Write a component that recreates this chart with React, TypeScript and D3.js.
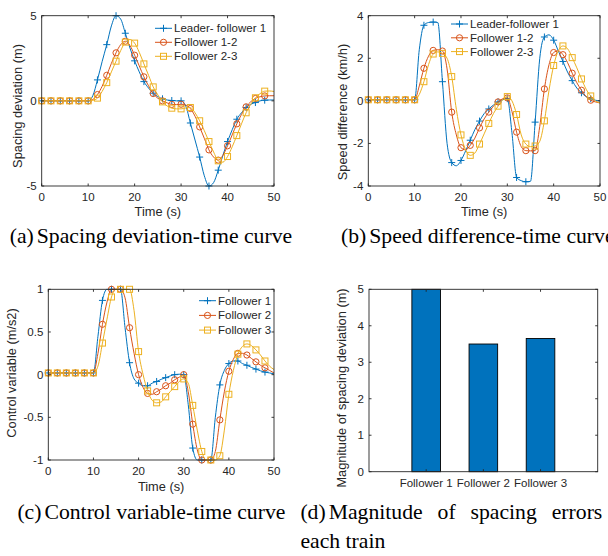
import React from 'react';
import * as d3 from 'd3';

// time grid (s)
const timeSec = [0,1,2,3,4,5,6,7,8,9,10,11,12,13,14,15,16,17,18,19,20,21,22,23,24,25,26,27,28,29,30,31,32,33,34,35,36,37,38,39,40,41,42,43,44,45,46,47,48,49,50];
const markerTimes = [0,2,4,6,8,10,12,14,16,18,20,22,24,26,28,30,32,34,36,38,40,42,44,46,48];

// (a) spacing deviation (m)
const gapLeader = [0,0,0,0,0,0,0,0,0,0,0, 0.3,1.23,2.3,3.3,4.4,5.0,4.8,3.97,3.1,2.35,1.7,1.13,0.75,0.45,0.25,0.12,0.05,0.02,0,0, -0.3,-1.3,-2.3,-3.3,-4.4,-5.0,-4.8,-4.07,-3.2,-2.39,-1.7,-1.08,-0.7,-0.39,-0.2,-0.1,0,0.04,0.05,0.05];
const gap12 = [0,0,0,0,0,0,0,0,0,0,0, 0.08,0.37,0.85,1.5,2.2,2.82,3.3,3.5,3.25,2.68,2.05,1.41,0.88,0.43,0.15,0.0,-0.12,-0.21,-0.22,-0.2, -0.25,-0.45,-0.9,-1.53,-2.2,-2.88,-3.3,-3.48,-3.2,-2.64,-2.0,-1.35,-0.8,-0.35,-0.05,0.14,0.24,0.29,0.3,0.3];
const gap23 = [0,0,0,0,0,0,0,0,0,0,0, 0.03,0.16,0.55,1.07,1.7,2.33,2.95,3.45,3.6,3.39,2.85,2.17,1.5,0.82,0.35,-0.06,-0.3,-0.43,-0.47,-0.47, -0.42,-0.39,-0.7,-1.17,-1.75,-2.39,-3.0,-3.52,-3.6,-3.27,-2.7,-2.04,-1.35,-0.7,-0.2,0.18,0.42,0.57,0.58,0.55];

// (b) speed difference (km/h)
const speedLeader = [0.05,0.05,0.05,0.05,0.05,0.05,0.05,0.05,0.05,0.05,0.05, 2.4,3.55,3.68,3.7,3.68,0.9,-2.0,-2.9,-3.05,-2.8,-2.35,-1.85,-1.35,-0.95,-0.6,-0.38,-0.2,-0.05,0.05,0.1, -1.5,-3.6,-3.75,-3.8,-3.78,-1.0,2.0,3.0,3.1,2.85,2.35,1.85,1.35,0.95,0.6,0.38,0.2,0.1,0.03,0.0];
const speed12 = [0.05,0.05,0.05,0.05,0.05,0.05,0.05,0.05,0.05,0.05,0.05, 0.7,1.53,2.1,2.37,2.4,2.34,1.5,-0.53,-1.6,-2.2,-2.3,-2.09,-1.75,-1.27,-0.85,-0.53,-0.25,-0.05,0.1,0.14, -0.5,-1.47,-2.15,-2.34,-2.35,-2.34,-1.2,0.56,1.7,2.27,2.35,2.17,1.8,1.3,0.85,0.5,0.2,0.03,-0.05,-0.1];
const speed23 = [0.05,0.05,0.05,0.05,0.05,0.05,0.05,0.05,0.05,0.05,0.05, 0.3,0.9,1.7,2.2,2.3,2.23,2.0,1.14,-0.4,-1.6,-2.3,-2.56,-2.45,-2.03,-1.55,-1.06,-0.6,-0.25,0.05,0.2, 0.0,-0.64,-1.6,-2.03,-2.15,-2.12,-1.9,-0.94,0.5,1.66,2.35,2.58,2.45,2.03,1.55,1.03,0.55,0.23,0.0,-0.1];

// (c) control variable (m/s2)
const ctrl1 = [0.02,0.02,0.02,0.02,0.02,0.02,0.02,0.02,0.02,0.02,0.02, 0.45,0.87,1.0,1.0,1.0,1.0,0.55,0.14,-0.05,-0.1,-0.13,-0.13,-0.1,-0.08,-0.055,-0.035,-0.015,0.0,0.005,0.0, -0.35,-0.86,-1.0,-1.0,-1.0,-1.0,-0.5,-0.12,0.05,0.13,0.16,0.16,0.13,0.11,0.085,0.065,0.045,0.03,0.02,0.01];
const ctrl2 = [0.02,0.02,0.02,0.02,0.02,0.02,0.02,0.02,0.02,0.02,0.02, 0.25,0.59,0.85,1.0,1.0,1.0,0.9,0.55,0.25,0.0,-0.15,-0.22,-0.23,-0.2,-0.17,-0.13,-0.1,-0.06,-0.03,0.0, -0.2,-0.58,-0.88,-1.0,-1.0,-1.0,-0.9,-0.53,-0.2,0.04,0.18,0.25,0.25,0.23,0.19,0.15,0.11,0.08,0.05,0.02];
const ctrl3 = [0.02,0.02,0.02,0.02,0.02,0.02,0.02,0.02,0.02,0.02,0.02, 0.1,0.37,0.65,0.91,1.0,1.0,1.0,1.0,0.75,0.27,0.0,-0.19,-0.3,-0.33,-0.32,-0.26,-0.2,-0.14,-0.08,-0.05, -0.1,-0.36,-0.65,-0.9,-1.0,-1.0,-1.0,-0.95,-0.65,-0.23,0.05,0.24,0.33,0.36,0.34,0.29,0.23,0.16,0.1,0.06];

// (d) max spacing error per train (m)
const trains = ['Follower 1', 'Follower 2', 'Follower 3'];
const maxGap = [5.0, 3.5, 3.65];

const timeTicks = [0, 10, 20, 30, 40, 50];
const gapTicks = [-5, 0, 5];
const speedTicks = [-4, -2, 0, 2, 4];
const ctrlTicks = [-1, -0.5, 0, 0.5, 1];
const barTicks = [0, 1, 2, 3, 4, 5];

const BLUE = '#0072BD';
const RED = '#D95319';
const YELLOW = '#EDB120';
const AXIS = '#262626';
const SANS = '"Liberation Sans", Arial, Helvetica, sans-serif';
const SERIF = '"Liberation Serif", "Times New Roman", serif';
const TICK_FS = 11.5;
const LABEL_FS = 12.8;
const TL = 2.5; // tick length

type Mk = 'plus' | 'circle' | 'square';
type Series = { name: string; values: number[]; color: string; marker: Mk };

const Marker = ({ x, y, kind, color }: { x: number; y: number; kind: Mk; color: string }) => {
  if (kind === 'plus')
    return <path d={`M${x - 3.5},${y}H${x + 3.5}M${x},${y - 3.5}V${y + 3.5}`} stroke={color} strokeWidth={1} fill="none" />;
  if (kind === 'circle') return <circle cx={x} cy={y} r={3.1} stroke={color} strokeWidth={1} fill="none" />;
  return <rect x={x - 3} y={y - 3} width={6} height={6} stroke={color} strokeWidth={1} fill="none" />;
};

type PanelProps = {
  x0: number; x1: number; y0: number; y1: number;
  yDomain: [number, number]; yTicks: number[];
  ylabel: string; ylabelX: number; ylabelY: number;
  xlabelY: number;
  series: Series[];
  legendX: number; legendY: number; legendStep: number;
};

const LinePanel = (p: PanelProps) => {
  const x = d3.scaleLinear().domain([0, 50]).range([p.x0, p.x1]);
  const y = d3.scaleLinear().domain(p.yDomain).range([p.y1, p.y0]);
  const line = d3.line<number>()
    .x((_, i) => x(timeSec[i]))
    .y(d => y(d))
    .curve(d3.curveMonotoneX);

  return (
    <g>
      {p.series.map(s => (
        <g key={s.name}>
          <path d={line(s.values) || ''} fill="none" stroke={s.color} strokeWidth={1} />
          {markerTimes.map(t => (
            <Marker key={t} x={x(t)} y={y(s.values[timeSec.indexOf(t)])} kind={s.marker} color={s.color} />
          ))}
        </g>
      ))}
      {/* box + ticks */}
      <rect x={p.x0} y={p.y0} width={p.x1 - p.x0} height={p.y1 - p.y0} fill="none" stroke={AXIS} strokeWidth={0.9} />
      {timeTicks.map(t => (
        <g key={'xt' + t}>
          <line x1={x(t)} x2={x(t)} y1={p.y1} y2={p.y1 - TL} stroke={AXIS} strokeWidth={0.9} />
          <line x1={x(t)} x2={x(t)} y1={p.y0} y2={p.y0 + TL} stroke={AXIS} strokeWidth={0.9} />
          <text x={x(t)} y={p.y1 + 15} textAnchor="middle" fontSize={TICK_FS} fill={AXIS} fontFamily={SANS}>{t}</text>
        </g>
      ))}
      {p.yTicks.map(v => (
        <g key={'yt' + v}>
          <line x1={p.x0} x2={p.x0 + TL} y1={y(v)} y2={y(v)} stroke={AXIS} strokeWidth={0.9} />
          <line x1={p.x1} x2={p.x1 - TL} y1={y(v)} y2={y(v)} stroke={AXIS} strokeWidth={0.9} />
          <text x={p.x0 - 5} y={y(v) + 4} textAnchor="end" fontSize={TICK_FS} fill={AXIS} fontFamily={SANS}>{String(v)}</text>
        </g>
      ))}
      <text x={(p.x0 + p.x1) / 2} y={p.xlabelY} textAnchor="middle" fontSize={LABEL_FS} fill={AXIS} fontFamily={SANS}>Time (s)</text>
      <text transform={`translate(${p.ylabelX},${p.ylabelY}) rotate(-90)`} textAnchor="middle" fontSize={LABEL_FS} fill={AXIS} fontFamily={SANS}>{p.ylabel}</text>
      {/* legend */}
      {p.series.map((s, i) => {
        const ly = p.legendY + i * p.legendStep;
        return (
          <g key={'lg' + s.name}>
            <line x1={p.legendX} x2={p.legendX + 17} y1={ly} y2={ly} stroke={s.color} strokeWidth={1} />
            <Marker x={p.legendX + 8.5} y={ly} kind={s.marker} color={s.color} />
            <text x={p.legendX + 19} y={ly + 4} fontSize={TICK_FS} fill={AXIS} fontFamily={SANS}>{s.name}</text>
          </g>
        );
      })}
    </g>
  );
};

const BarPanel = () => {
  const x0 = 369, x1 = 597.7, y0 = 289.3, y1 = 471.7;
  const x = d3.scaleLinear().domain([0, 4]).range([x0, x1]);
  const y = d3.scaleLinear().domain([0, 5]).range([y1, y0]);
  const bw = x(0.5) - x(0);
  return (
    <g>
      {maxGap.map((v, i) => (
        <rect key={trains[i]} x={x(i + 1) - bw / 2} y={y(v)} width={bw} height={y(0) - y(v)} fill={BLUE} stroke="#000" strokeWidth={0.9} />
      ))}
      <rect x={x0} y={y0} width={x1 - x0} height={y1 - y0} fill="none" stroke={AXIS} strokeWidth={0.9} />
      {trains.map((name, i) => (
        <g key={'bt' + name}>
          <line x1={x(i + 1)} x2={x(i + 1)} y1={y1} y2={y1 - TL} stroke={AXIS} strokeWidth={0.9} />
          <line x1={x(i + 1)} x2={x(i + 1)} y1={y0} y2={y0 + TL} stroke={AXIS} strokeWidth={0.9} />
          <text x={x(i + 1)} y={y1 + 15} textAnchor="middle" fontSize={TICK_FS} fill={AXIS} fontFamily={SANS}>{name}</text>
        </g>
      ))}
      {barTicks.map(v => (
        <g key={'byt' + v}>
          <line x1={x0} x2={x0 + TL} y1={y(v)} y2={y(v)} stroke={AXIS} strokeWidth={0.9} />
          <line x1={x1} x2={x1 - TL} y1={y(v)} y2={y(v)} stroke={AXIS} strokeWidth={0.9} />
          <text x={x0 - 5} y={y(v) + 4} textAnchor="end" fontSize={TICK_FS} fill={AXIS} fontFamily={SANS}>{v}</text>
        </g>
      ))}
      <text transform={`translate(346,388) rotate(-90)`} textAnchor="middle" fontSize={LABEL_FS} fill={AXIS} fontFamily={SANS}>Magnitude of spacing deviation (m)</text>
    </g>
  );
};

export default function App() {
  return (
    <svg width={608} height={556} style={{ position: 'absolute', left: 0, top: 0, background: '#fff' }}>
      <rect width={608} height={556} fill="#fff" />
      <LinePanel
        x0={41.7} x1={274} y0={15.7} y1={186}
        yDomain={[-5, 5]} yTicks={gapTicks}
        ylabel="Spacing deviation (m)" ylabelX={22} ylabelY={106}
        xlabelY={216}
        series={[
          { name: 'Leader- follower 1', values: gapLeader, color: BLUE, marker: 'plus' },
          { name: 'Follower 1-2', values: gap12, color: RED, marker: 'circle' },
          { name: 'Follower 2-3', values: gap23, color: YELLOW, marker: 'square' },
        ]}
        legendX={155} legendY={28.3} legendStep={14}
      />
      <LinePanel
        x0={368.3} x1={600} y0={15.7} y1={186}
        yDomain={[-4, 4]} yTicks={speedTicks}
        ylabel="Speed difference (km/h)" ylabelX={347} ylabelY={112}
        xlabelY={216}
        series={[
          { name: 'Leader-follower 1', values: speedLeader, color: BLUE, marker: 'plus' },
          { name: 'Follower 1-2', values: speed12, color: RED, marker: 'circle' },
          { name: 'Follower 2-3', values: speed23, color: YELLOW, marker: 'square' },
        ]}
        legendX={451} legendY={24} legendStep={13.8}
      />
      <LinePanel
        x0={48.3} x1={274} y0={289.3} y1={460}
        yDomain={[-1, 1]} yTicks={ctrlTicks}
        ylabel="Control variable (m/s2)" ylabelX={16} ylabelY={373}
        xlabelY={491}
        series={[
          { name: 'Follower 1', values: ctrl1, color: BLUE, marker: 'plus' },
          { name: 'Follower 2', values: ctrl2, color: RED, marker: 'circle' },
          { name: 'Follower 3', values: ctrl3, color: YELLOW, marker: 'square' },
        ]}
        legendX={199} legendY={300.7} legendStep={14.7}
      />
      <BarPanel />
      <g fontFamily={SERIF} fontSize={21.7} fill="#000">
        <text x={9.7} y={243}>(a)<tspan dx={3}>Spacing deviation-time curve</tspan></text>
        <text x={341} y={243}>(b)<tspan dx={3}>Speed difference-time curve</tspan></text>
        <text x={17.4} y={519}>(c)<tspan dx={3}>Control variable-time curve</tspan></text>
        <text x={300.4} y={519} wordSpacing={9.5}>(d)<tspan dx={3}>Magnitude of spacing errors</tspan></text>
        <text x={300.4} y={548}>each train</text>
      </g>
    </svg>
  );
}
